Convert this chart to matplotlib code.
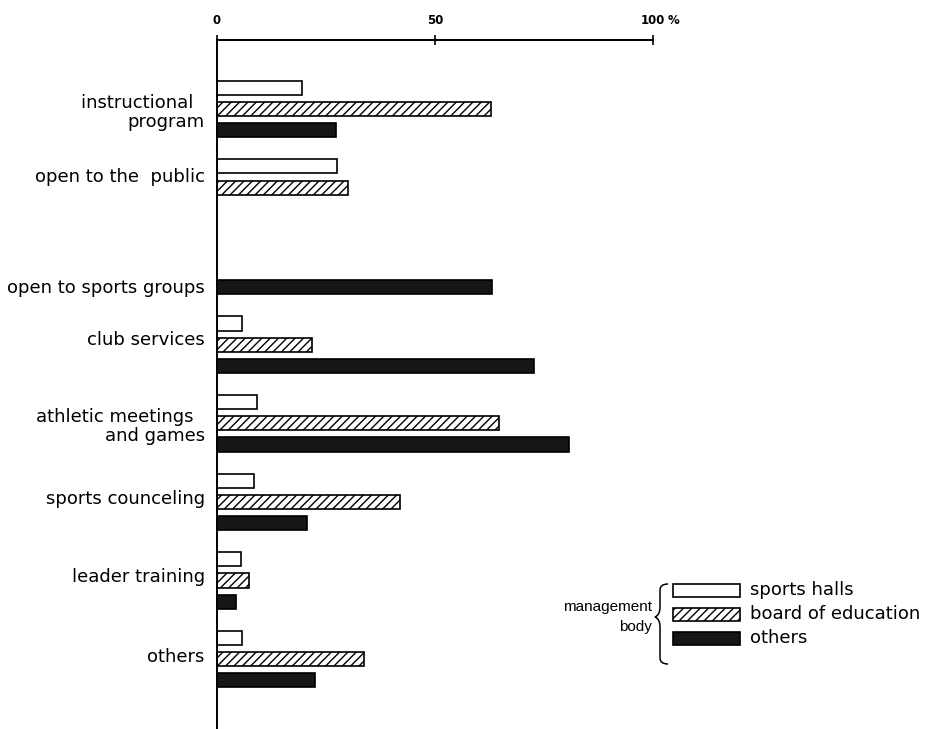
import numpy as np
import matplotlib
matplotlib.use("Agg")
import matplotlib.pyplot as plt
from matplotlib.path import Path
from matplotlib.patches import PathPatch, Rectangle

plt.rcParams['font.family'] = ['DejaVu Sans']
plt.rcParams['hatch.linewidth'] = 1.0

categories = ["instructional  \nprogram", "open to the  public", "open to sports groups",
              "club services", "athletic meetings  \nand games", "sports counceling",
              "leader training", "others"]
series = ["sports halls", "board of education", "others"]
# percent, nan = no bar
sports_halls = [19.4, 27.6, np.nan, 5.8, 9.2, 8.6, 5.5, 5.7]
board_of_education = [62.8, 30.1, np.nan, 21.7, 64.7, 42.0, 7.3, 33.7]
others = [27.2, np.nan, 63.1, 72.6, 80.7, 20.6, 4.4, 22.5]

W, H = 932, 729
fig = plt.figure(figsize=(W / 100, H / 100), dpi=100)
# axes: x 0..100 -> px 217..653, top at px 40, bottom at px 729
ax = fig.add_axes([217 / W, 0, 436 / W, (H - 40) / H])
ax.set_xlim(0, 100)
ax.set_ylim(7.89, -0.878)

styles = [dict(facecolor="white", edgecolor="black", hatch=None),
          dict(facecolor="white", edgecolor="black", hatch="////"),
          dict(facecolor="#161616", edgecolor="black", hatch=None)]
offsets = [-0.27, 0.0, 0.27]
y = np.arange(len(categories))
for vals, off, st in zip([sports_halls, board_of_education, others], offsets, styles):
    v = np.array(vals, dtype=float)
    m = ~np.isnan(v)
    ax.barh(y[m] + off, v[m], height=0.18, left=0, linewidth=1.2, **st)

for s in ["right", "bottom"]:
    ax.spines[s].set_visible(False)
ax.spines["top"].set_linewidth(1.4)
ax.spines["left"].set_linewidth(1.4)
ax.spines["top"].set_bounds(0, 100)
ax.xaxis.tick_top()
ax.set_xticks([0, 50, 100])
ax.set_xticklabels(["0", "50", "100"], fontsize=8.5, fontweight="bold")
ax.tick_params(axis="x", direction="inout", length=7, width=1.2, pad=6)
ax.set_yticks([])


def px(x, yy):
    return (x / W, (H - yy) / H)


fig.text(*px(668, 20), "%", fontsize=8.5, fontweight="bold", ha="left", va="center")

# category labels
label_y = [0.04, -0.13, 0.28, -0.06, 0.04, -0.04, -0.05, -0.03]
for i, (c, dy) in enumerate(zip(categories, label_y)):
    ax.text(-2.8, i + dy, c, ha="right", va="center", fontsize=13,
            linespacing=1.08, multialignment="right")

# legend
leg_y = [590, 614, 638]
for yy, st, name in zip(leg_y, styles, series):
    x0, y0 = px(673, yy + 6.5)
    fig.patches.append(Rectangle((x0, y0), 67 / W, 13 / H, transform=fig.transFigure,
                                 linewidth=1.2, **st))
    fig.text(*px(750, yy), name, ha="left", va="center", fontsize=13)

fig.text(*px(652, 607), "management", ha="right", va="center", fontsize=11,
         family="Liberation Sans")
fig.text(*px(652, 627), "body", ha="right", va="center", fontsize=11,
         family="Liberation Sans")

# curly brace
xb, top, bot, mid = 668, 584, 664, 617
pts = [px(xb, top), px(xb - 8, top), px(xb - 8, top + 6), px(xb - 8, mid - 10),
       px(xb - 8, mid - 2), px(xb - 13, mid), px(xb - 8, mid + 2),
       px(xb - 8, mid + 10), px(xb - 8, bot - 6), px(xb - 8, bot), px(xb, bot)]
codes = [Path.MOVETO, Path.CURVE3, Path.CURVE3, Path.LINETO,
         Path.CURVE3, Path.CURVE3, Path.CURVE3, Path.CURVE3,
         Path.LINETO, Path.CURVE3, Path.CURVE3]
fig.patches.append(PathPatch(Path(pts, codes), transform=fig.transFigure,
                             facecolor="none", edgecolor="black", linewidth=1.1))

fig.savefig("out.png", dpi=100)
